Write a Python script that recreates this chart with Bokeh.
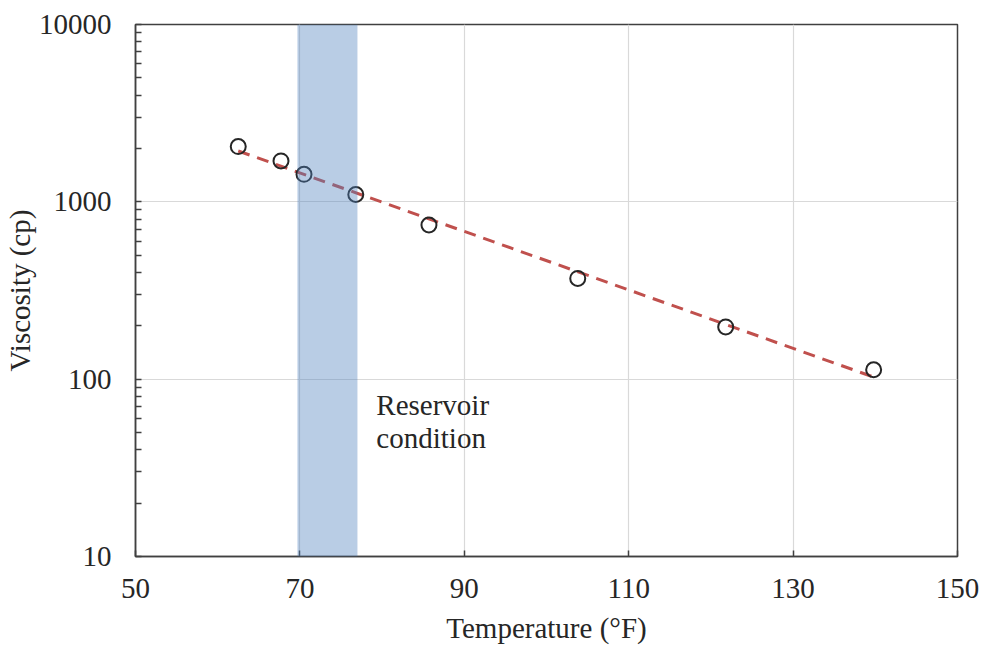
import numpy as np
from bokeh.plotting import figure
from bokeh.models import FixedTicker, BoxAnnotation, ColumnDataSource, CustomJSTickFormatter
from bokeh.core.properties import value
from bokeh.embed import file_html
from bokeh.resources import INLINE

# Measured viscosity against temperature
temperature_f = [62.5, 67.7, 70.5, 76.8, 85.7, 103.8, 121.8, 139.8]
viscosity_cp = [2050, 1700, 1430, 1100, 740, 370, 197, 113]

# Reservoir temperature window (°F)
reservoir_range = [69.7, 77.0]
reservoir_label = ["Reservoir", "condition"]

x_ticks = [50, 70, 90, 110, 130, 150]
y_ticks = [10, 100, 1000, 10000]

FONT = "Liberation Serif"
FONT_SIZE = "29px"

p = figure(
    width=984, height=647,
    x_range=(50, 150), y_range=(10, 10000),
    y_axis_type="log",
    output_backend="svg", toolbar_location=None,
    min_border_left=135, min_border_right=27,
    min_border_top=24, min_border_bottom=91,
)
p.background_fill_color = "white"
p.border_fill_color = "white"
p.outline_line_color = "#404040"
p.outline_line_width = 1.5

# Axes
p.xaxis.ticker = FixedTicker(ticks=x_ticks)
p.yaxis.ticker = FixedTicker(
    ticks=y_ticks,
    minor_ticks=[m * d for d in (10, 100, 1000) for m in range(2, 10)],
)
p.yaxis.formatter = CustomJSTickFormatter(code="return tick.toFixed(0);")

for ax in (p.xaxis[0], p.yaxis[0]):
    ax.axis_line_color = "#404040"
    ax.axis_line_width = 1.5
    ax.major_tick_in = 6
    ax.major_tick_out = 0
    ax.major_tick_line_color = "#404040"
    ax.major_tick_line_width = 1.5
    ax.major_label_text_font = FONT
    ax.major_label_text_font_size = FONT_SIZE
    ax.major_label_text_color = "#262626"
    ax.axis_label_text_font = FONT
    ax.axis_label_text_font_size = FONT_SIZE
    ax.axis_label_text_font_style = "normal"
    ax.axis_label_text_color = "#262626"

p.xaxis.minor_tick_line_color = None
p.yaxis.minor_tick_in = 6
p.yaxis.minor_tick_out = 0
p.yaxis.minor_tick_line_color = "#404040"
p.yaxis.minor_tick_line_width = 1.5

p.xaxis.major_label_standoff = 22
p.yaxis.major_label_standoff = 24
p.xaxis.axis_label = "Temperature (°F)"
p.yaxis.axis_label = "Viscosity (cp)"
p.xaxis.axis_label_standoff = 11
p.yaxis.axis_label_standoff = 0

# Grid
p.xgrid.grid_line_color = "#d9d9d9"
p.ygrid.grid_line_color = "#d9d9d9"
p.xgrid.grid_line_width = 1.2
p.ygrid.grid_line_width = 1.2

# Reservoir band
p.add_layout(BoxAnnotation(
    left=reservoir_range[0], right=reservoir_range[1],
    fill_color="#4f81bd", fill_alpha=0.4, line_color=None,
))

# Exponential trend line fitted to the measurements
tx = np.array(temperature_f)
coef = np.polyfit(tx, np.log10(viscosity_cp), 1)
fit_x = [tx.min(), tx.max()]
fit_y = [10 ** np.polyval(coef, v) for v in fit_x]
p.line(fit_x, fit_y, line_color="#c0504d", line_width=3, line_dash="12 8")

# Data points
p.scatter(temperature_f, viscosity_cp, size=15, marker="circle",
          fill_alpha=0, line_color="#262626", line_width=2)

# Band annotation
src = ColumnDataSource(dict(x=[79.3, 79.3], y=[71.3, 46.5], t=reservoir_label))
p.text(x="x", y="y", text="t", source=src, text_font=value(FONT),
       text_font_size=FONT_SIZE, text_baseline="middle", text_align="left",
       text_color="#262626")

open("out.html", "w").write(file_html(p, INLINE))
